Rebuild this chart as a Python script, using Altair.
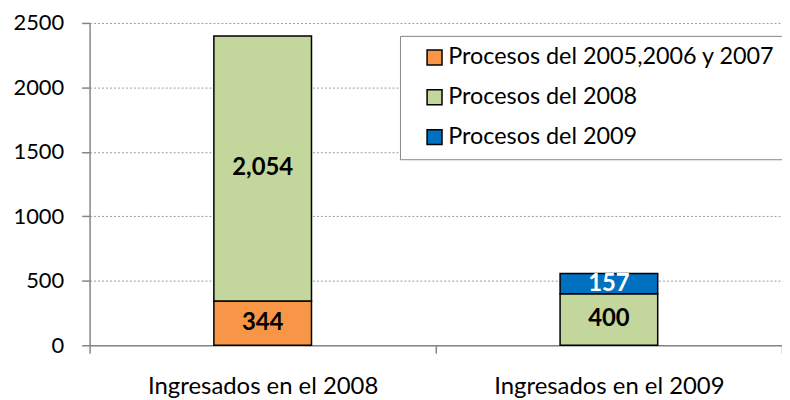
import altair as alt
import pandas as pd

categories = ["Ingresados en el 2008", "Ingresados en el 2009"]
series = ["Procesos del 2005,2006 y 2007", "Procesos del 2008", "Procesos del 2009"]
colors = ["#F79646", "#C3D69B", "#0070C0"]
ingresados_2008 = [344, 2054, None]
ingresados_2009 = [None, 400, 157]
y_ticks = [0, 500, 1000, 1500, 2000, 2500]

rows = []
for cat, vals in zip(categories, [ingresados_2008, ingresados_2009]):
    for i, (s, v) in enumerate(zip(series, vals)):
        if v is not None:
            rows.append({"cat": cat, "serie": s, "orden": i, "valor": v})
df = pd.DataFrame(rows)

FONT = "Lato"
GREY = "#868686"

base = alt.Chart(df).transform_stack(
    stack="valor", groupby=["cat"], as_=["v0", "v1"],
    sort=[alt.SortField("orden", order="ascending")]
).transform_calculate(mid="(datum.v0 + datum.v1) / 2")

x_scale = alt.Scale(paddingInner=0, paddingOuter=0)

x_enc = alt.X(
    "cat:N", title=None, sort=categories, scale=x_scale,
    axis=alt.Axis(
        labelAngle=0, tickBand="extent", tickSize=8, tickColor=GREY,
        domainColor=GREY, domainWidth=1.5, tickWidth=1.5,
        labelFont=FONT, labelFontSize=24, labelColor="black", labelPadding=21,
        labelLimit=0, grid=False,
    ),
)

bars = base.mark_bar(stroke="black", strokeWidth=1.5, width=alt.RelativeBandSize(0.282)).encode(
    x=x_enc,
    y=alt.Y(
        "v0:Q", title=None, scale=alt.Scale(domain=[0, 2500], nice=False),
        axis=alt.Axis(
            values=y_ticks, format="d", grid=True, gridDash=[2, 2], gridColor="#9a9a9a",
            gridWidth=1, tickSize=8, tickColor=GREY, domainColor=GREY,
            domainWidth=1.5, tickWidth=1.5,
            labelFont=FONT, labelFontSize=22, labelColor="black", labelPadding=18,
        ),
    ),
    y2="v1:Q",
    color=alt.Color(
        "serie:N", scale=alt.Scale(domain=series, range=colors),
        legend=alt.Legend(
            title=None, orient="none", legendX=312, legendY=13,
            strokeColor=GREY, fillColor="white", padding=10,
            symbolType="square", symbolSize=225, symbolStrokeColor="black",
            symbolStrokeWidth=1.5, symbolOffset=13, labelOffset=2,
            labelFont=FONT, labelFontSize=23.5, labelColor="black",
            rowPadding=15, labelLimit=1000,
        ),
    ),
)

text = base.mark_text(font=FONT, fontWeight="bold", fontSize=24).encode(
    x=alt.X("cat:N", sort=categories, scale=x_scale),
    y=alt.Y("mid:Q"),
    text=alt.Text("valor:Q", format=","),
    color=alt.condition(alt.datum.serie == series[2], alt.value("white"), alt.value("black")),
)

chart = alt.layer(bars, text).properties(
    width=696, height=324,
    autosize=alt.AutoSizeParams(type="none"),
    padding={"left": 82, "top": 14, "right": 0, "bottom": 52},
).configure_view(stroke=None)

chart.save("out.html", embed_options={"renderer": "svg", "actions": False})
